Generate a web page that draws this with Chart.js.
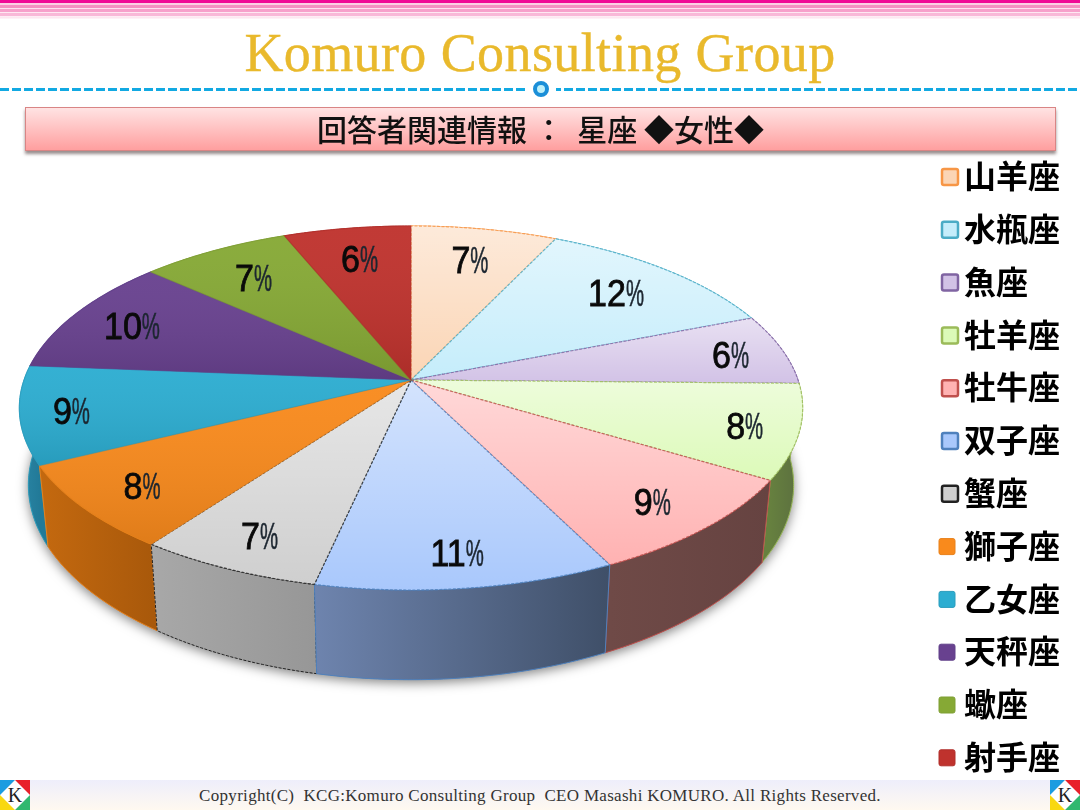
<!DOCTYPE html>
<html lang="ja">
<head>
<meta charset="utf-8">
<title>回答者関連情報</title>
<script src="https://cdn.jsdelivr.net/npm/chart.js@4"></script>
<style>
  html, body { margin: 0; padding: 0; background: #fff; }
  #page { position: relative; width: 1080px; height: 810px; overflow: hidden; filter: blur(0.45px); }
  #stripes { position: absolute; left: 0; top: 0; width: 1080px; height: 19px;
    background: linear-gradient(to bottom, #f00a96 0, #f00a96 3px, #fbd0e4 3px, #fbd0e4 5px, #f590c2 5px, #f590c2 8px,
      #fde4ef 8px, #fde4ef 9.5px, #f7a0cb 9.5px, #f7a0cb 12px, #fee8f2 12px, #fee8f2 13.5px, #f9b8d8 13.5px, #f9b8d8 16px,
      #fef0f6 16px, #fde4ef 18px, #fff 19px); }
  #brand { position: absolute; left: 0; top: 21px; width: 1080px; text-align: center; color: #e9b92c;
    font: 54px/64px "Liberation Serif", serif; letter-spacing: 0.4px; -webkit-text-stroke: 0.4px #e9b92c; }
  #rule { position: absolute; left: 0; top: 88px; width: 1080px; height: 3px;
    background: repeating-linear-gradient(to right, #12a9e2 0, #12a9e2 9px, transparent 9px, transparent 12px); }
  #ruleGap { position: absolute; left: 526px; top: 78px; width: 30px; height: 22px; background: #fff; }
  #dot { position: absolute; left: 533px; top: 81px; width: 8px; height: 8px; border-radius: 50%;
    border: 4px solid #1b8fd8; background: #bdf0fa; }
  #banner { position: absolute; left: 25px; top: 107px; width: 1031px; height: 44px; box-sizing: border-box;
    border: 1px solid #d98585; background: linear-gradient(to bottom, #ffe3e3, #ff9f9f);
    box-shadow: 0 3px 3px rgba(70, 50, 50, 0.55); text-align: center; color: #111;
    font: 500 30px/41px "Noto Sans CJK JP", sans-serif; white-space: pre; }
  #chartCanvas { position: absolute; left: 0; top: 0; }
  #footer { position: absolute; left: 0; top: 780px; width: 1080px; height: 30px;
    background: linear-gradient(to bottom, #eeeefb, #fff9f0); text-align: center; color: #333;
    font: 17px/31px "Liberation Serif", serif; letter-spacing: 0.3px; white-space: pre; }
  .logo { position: absolute; top: 780px; width: 30px; height: 30px; }
</style>
</head>
<body>
<div id="page">
  <div id="stripes"></div>
  <div id="brand">Komuro Consulting Group</div>
  <div id="rule"></div>
  <div id="ruleGap"></div>
  <div id="dot"></div>
  <div id="banner">回答者関連情報 ：  星座 ◆女性◆</div>
  <div id="footer">Copyright(C)  KCG:Komuro Consulting Group  CEO Masashi KOMURO. All Rights Reserved.</div>
  <svg class="logo" style="left:0" viewBox="0 0 30 30"><rect width="30" height="30" fill="#fff"/><path d="M0 0H15L0 15Z" fill="#1b9ce0"/><path d="M30 0H15L30 15Z" fill="#e8202a"/><path d="M0 30H15L0 15Z" fill="#f8d810"/><path d="M30 30H15L30 15Z" fill="#30b870"/><text x="15" y="22" text-anchor="middle" font-family="Liberation Serif" font-size="20" fill="#222">K</text></svg>
  <svg class="logo" style="left:1050px" viewBox="0 0 30 30"><rect width="30" height="30" fill="#fff"/><path d="M0 0H15L0 15Z" fill="#1b9ce0"/><path d="M30 0H15L30 15Z" fill="#e8202a"/><path d="M0 30H15L0 15Z" fill="#f8d810"/><path d="M30 30H15L30 15Z" fill="#30b870"/><text x="15" y="22" text-anchor="middle" font-family="Liberation Serif" font-size="20" fill="#222">K</text></svg>
  <canvas id="chartCanvas" width="1080" height="780"></canvas>
</div>
<script>
const signs = ["山羊座", "水瓶座", "魚座", "牡羊座", "牡牛座", "双子座", "蟹座", "獅子座", "乙女座", "天秤座", "蠍座", "射手座"];
const shares = [7.0, 12.0, 6.3, 8.4, 9.0, 10.7, 6.6, 7.6, 8.7, 10.4, 7.2, 6.1];

const faceColors = ["#fbd5b5", "#c5edfb", "#d2c2e6", "#dcfab8", "#ffb2b2", "#a9c8fc", "#cfcfcf", "#f98a1c", "#2cadd1", "#68418f", "#86a935", "#bf322d"];
const edgeColors = ["#f79646", "#4bacc6", "#8064a2", "#9bbb59", "#c0504d", "#4f81bd", "#222222", "#e8811a", "#2b9dbd", "#61408a", "#7f9f34", "#b02e2a"];
const wallLeft = ["#c98a58", "#7cb3c6", "#8a7aa0", "#66803f", "#6f4a47", "#6e84ae", "#a8a8a8", "#c4690f", "#2a86a6", "#4c2f70", "#5f7828", "#7f2320"];
const wallRight = ["#c98a58", "#7cb3c6", "#8a7aa0", "#5a6d3f", "#664341", "#3f4f68", "#979797", "#a9590b", "#227a98", "#4c2f70", "#5f7828", "#7f2320"];

// the pie lies on a tilted plane: the hub sits above the middle of the ellipse
const HUB_X = 411;
const HUB_Y = 380;
const RX = 387;
const RY = 177.7;
const TILT = 0.1538;
const DROP = 75;
const BASE_SX = 0.977;
const BASE_SY = 1.07;

function project(angle, r) {
  const u = Math.cos(angle) * r;
  const v = Math.sin(angle) * r;
  const d = 1 - TILT * v;
  return { x: RX * u / d, y: RY * v / d };
}
function topPoint(angle, r) {
  const p = project(angle, r === undefined ? 1 : r);
  return { x: HUB_X + p.x, y: HUB_Y + p.y };
}
function basePoint(angle) {
  const p = project(angle, 1);
  return { x: HUB_X + p.x * BASE_SX, y: HUB_Y + DROP + p.y * BASE_SY };
}
function arcPoints(from, to, fn) {
  const steps = Math.max(2, Math.ceil((to - from) / 0.01));
  const pts = [];
  for (let i = 0; i <= steps; i++) {
    pts.push(fn(from + (to - from) * i / steps));
  }
  return pts;
}
function tracePoints(ctx, pts, start) {
  pts.forEach((p, i) => {
    if (i === 0 && start) ctx.moveTo(p.x, p.y);
    else ctx.lineTo(p.x, p.y);
  });
}

const tiltedPie = {
  id: "tiltedPie",
  beforeDatasetDraw(chart, args) {
    const ctx = chart.ctx;
    const arcs = args.meta.data;
    ctx.save();

    // soft shadow under the base
    ctx.save();
    ctx.shadowColor = "rgba(0,0,0,0.5)";
    ctx.shadowBlur = 12;
    ctx.shadowOffsetY = 3;
    ctx.fillStyle = "#666";
    ctx.beginPath();
    tracePoints(ctx, arcPoints(0, Math.PI * 2, basePoint), true);
    ctx.closePath();
    ctx.fill();
    ctx.restore();

    // walls, back to front
    const order = arcs.map((a, i) => i).sort((a, b) => {
      const ma = (arcs[a].startAngle + arcs[a].endAngle) / 2;
      const mb = (arcs[b].startAngle + arcs[b].endAngle) / 2;
      return Math.sin(ma) - Math.sin(mb);
    });
    order.forEach((i) => {
      const a = arcs[i];
      const top = arcPoints(a.startAngle, a.endAngle, topPoint);
      const base = arcPoints(a.startAngle, a.endAngle, basePoint);
      const xs = top.map((p) => p.x);
      const grad = ctx.createLinearGradient(Math.min(...xs), 0, Math.max(...xs), 0);
      grad.addColorStop(0, wallLeft[i]);
      grad.addColorStop(1, wallRight[i]);
      ctx.beginPath();
      tracePoints(ctx, top, true);
      tracePoints(ctx, base.reverse(), false);
      ctx.closePath();
      ctx.fillStyle = grad;
      ctx.fill();
      ctx.strokeStyle = a.options.borderColor;
      ctx.lineWidth = 1;
      ctx.setLineDash(i === 6 ? [3, 1.5] : []);
      ctx.stroke();
    });

    // top faces, shaded from the far point of each slice to its near point
    arcs.forEach((a, i) => {
      const rim = arcPoints(a.startAngle, a.endAngle, topPoint);
      const ys = rim.map((p) => p.y).concat(HUB_Y);
      ctx.beginPath();
      ctx.moveTo(HUB_X, HUB_Y);
      tracePoints(ctx, rim, false);
      ctx.closePath();
      ctx.fillStyle = a.options.backgroundColor;
      ctx.fill();
      const sheen = ctx.createLinearGradient(0, Math.min(...ys), 0, Math.max(...ys));
      if (i < 7) {
        sheen.addColorStop(0, "rgba(255,255,255,0.5)");
        sheen.addColorStop(1, "rgba(255,255,255,0)");
      } else {
        sheen.addColorStop(0, "rgba(255,255,255,0.04)");
        sheen.addColorStop(1, "rgba(0,0,0,0.1)");
      }
      ctx.fillStyle = sheen;
      ctx.fill();
      ctx.strokeStyle = a.options.borderColor;
      ctx.globalAlpha = i < 7 ? 0.8 : 0.55;
      ctx.lineWidth = 1.2;
      ctx.setLineDash(i < 7 ? [3, 1.5] : []);
      ctx.stroke();
      ctx.globalAlpha = 1;
    });
    ctx.setLineDash([]);

    // percent labels
    const total = shares.reduce((s, v) => s + v, 0);
    ctx.textBaseline = "middle";
    ctx.textAlign = "left";
    arcs.forEach((a, i) => {
      const mid = (a.startAngle + a.endAngle) / 2;
      const r = 0.78 + 0.07 * Math.max(0, Math.sin(mid)) + 0.09 * Math.pow(Math.cos(mid), 8);
      const p = topPoint(mid, r);
      const num = String(Math.round(shares[i] / total * 100));
      ctx.font = "37px 'Liberation Sans', sans-serif";
      const numW = ctx.measureText(num).width * 0.92;
      const pctW = ctx.measureText("%").width * 0.55;
      const x = p.x - (numW + pctW) / 2;
      const y = p.y + 4;
      ctx.fillStyle = "#0a0a0a";
      ctx.save();
      ctx.translate(x, y);
      ctx.scale(0.92, 1);
      ctx.fillText(num, 0, 0);
      ctx.lineWidth = 0.8;
      ctx.strokeStyle = "#0a0a0a";
      ctx.strokeText(num, 0, 0);
      ctx.restore();
      ctx.fillStyle = "#1c2630";
      ctx.save();
      ctx.translate(x + numW, y);
      ctx.scale(0.55, 1);
      ctx.fillText("%", 0, 0);
      ctx.lineWidth = 0.6;
      ctx.strokeStyle = "#1c2630";
      ctx.strokeText("%", 0, 0);
      ctx.restore();
    });

    ctx.restore();
    return false;
  },
};

const signKey = {
  id: "signKey",
  afterDraw(chart) {
    const ctx = chart.ctx;
    const ds = chart.data.datasets[0];
    ctx.save();
    ctx.textBaseline = "middle";
    ctx.textAlign = "left";
    chart.data.labels.forEach((name, i) => {
      const y = 177 + i * 52.8;
      const x = i < 7 ? 942 : 939;
      ctx.beginPath();
      ctx.roundRect(x, y - 8, 16, 16, 2);
      ctx.fillStyle = ds.backgroundColor[i];
      ctx.fill();
      ctx.lineWidth = i < 7 ? 2.5 : 1;
      ctx.strokeStyle = ds.borderColor[i];
      ctx.stroke();
      ctx.fillStyle = "#000";
      ctx.font = "bold 32px 'Noto Sans CJK JP', sans-serif";
      ctx.fillText(name, 964, y - 1);
    });
    ctx.restore();
  },
};

new Chart(document.getElementById("chartCanvas"), {
  type: "pie",
  data: {
    labels: signs,
    datasets: [{
      data: shares,
      backgroundColor: faceColors,
      borderColor: edgeColors,
    }],
  },
  options: {
    responsive: false,
    animation: false,
    devicePixelRatio: 1,
    plugins: {
      legend: { display: false },
      tooltip: { enabled: false },
    },
  },
  plugins: [tiltedPie, signKey],
});
</script>
</body>
</html>
